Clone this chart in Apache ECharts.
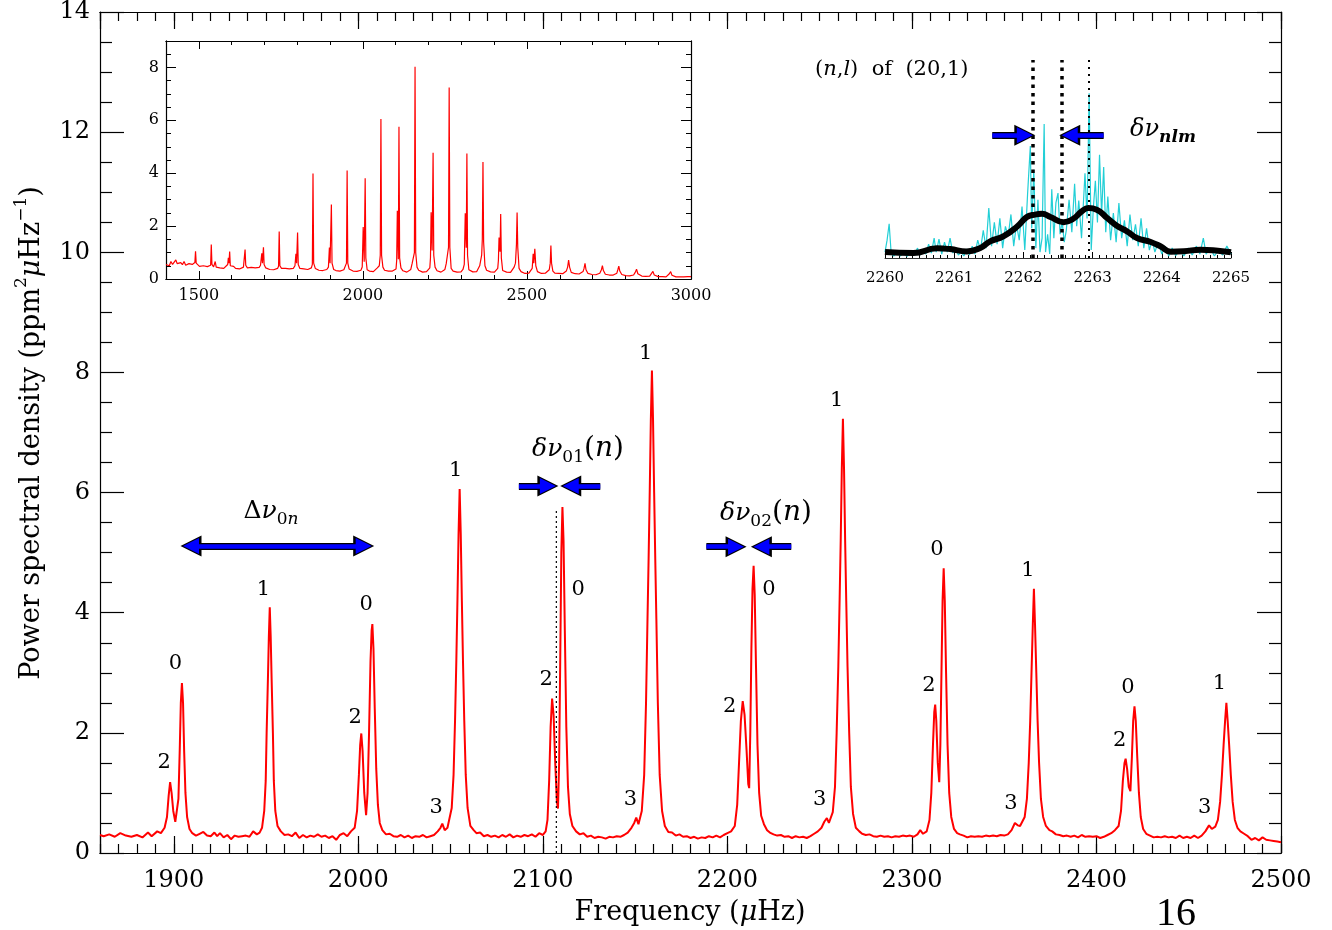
<!DOCTYPE html>
<html>
<head>
<meta charset="utf-8">
<title>Power spectrum</title>
<script src="https://cdn.jsdelivr.net/npm/echarts@6/dist/echarts.min.js"></script>
<style>
  html, body { margin: 0; padding: 0; background: #fff; }
  #chart { width: 1332px; height: 930px; }
</style>
</head>
<body>
<div id="chart"></div>
<script>
// main spectrum, [frequency (uHz), PSD]
const mainSpectrum = [
  [1860,0.30],[1862,0.28],[1865,0.31],[1868,0.27],[1871,0.33],[1874,0.29],[1877,0.27],[1880,0.30],[1883,0.26],[1886,0.34],
  [1888,0.28],[1891,0.36],[1893,0.33],[1895,0.42],[1896.3,0.6],[1897.2,0.95],[1898.0,1.18],[1898.8,1.0],[1899.7,0.7],[1900.8,0.52],
  [1901.7,0.55],[1902.5,0.9],[1903.2,1.7],[1903.8,2.5],[1904.4,2.83],[1905.0,2.5],[1905.6,1.7],[1906.3,1.0],[1907.2,0.6],[1908.5,0.40],
  [1910,0.33],[1912,0.29],[1914,0.32],[1916,0.35],[1918,0.29],[1920,0.28],[1922,0.34],[1923.5,0.28],[1925,0.33],[1927,0.26],
  [1929,0.30],[1931,0.23],[1933,0.29],[1935,0.27],[1937,0.28],[1939,0.29],[1941,0.27],[1943,0.36],[1945,0.31],[1946.5,0.34],
  [1947.8,0.42],[1949.0,0.7],[1949.8,1.2],[1950.3,2.0],[1951.0,2.9],[1951.5,3.6],[1952.0,4.09],[1952.5,3.6],[1953.0,2.9],[1953.7,2.0],
  [1954.2,1.2],[1955.0,0.7],[1956.2,0.45],[1958,0.36],[1960,0.30],[1962,0.31],[1964,0.28],[1966,0.34],[1968,0.25],[1970,0.30],
  [1972,0.26],[1974,0.29],[1976,0.27],[1978,0.31],[1980,0.27],[1982,0.29],[1984,0.25],[1986,0.28],[1988,0.22],[1990,0.30],
  [1992,0.33],[1994,0.28],[1996,0.36],[1998,0.42],[1999.3,0.7],[2000.3,1.3],[2001.0,1.8],[2001.6,1.99],[2002.3,1.7],[2003.2,1.0],
  [2004.2,0.63],[2005.0,1.0],[2005.8,2.0],[2006.6,3.2],[2007.2,3.7],[2007.6,3.81],[2008.2,3.4],[2008.9,2.4],[2009.7,1.4],[2010.6,0.8],
  [2011.6,0.5],[2013,0.38],[2015,0.31],[2017,0.32],[2019,0.28],[2021,0.27],[2023,0.30],[2025,0.26],[2027,0.29],[2029,0.25],
  [2031,0.28],[2033,0.27],[2035,0.30],[2037,0.26],[2039,0.28],[2041,0.30],[2043,0.36],[2044.5,0.42],[2045.5,0.49],[2046.8,0.38],
  [2048.3,0.42],[2049.1,0.45],[2050.6,0.75],[2051.6,1.3],[2052.4,2.2],[2053.1,3.2],[2053.7,4.2],[2054.3,5.3],[2054.9,6.06],[2055.5,5.3],
  [2056.1,4.2],[2056.7,3.2],[2057.4,2.2],[2058.2,1.3],[2059.2,0.75],[2060.7,0.45],[2062.5,0.38],[2064,0.33],[2066,0.34],[2068,0.28],
  [2070,0.30],[2072,0.27],[2074,0.29],[2076,0.26],[2078,0.30],[2080,0.27],[2082,0.31],[2084,0.26],[2086,0.29],[2088,0.27],
  [2090,0.30],[2092,0.28],[2094,0.31],[2096,0.27],[2098,0.33],[2100,0.30],[2101.5,0.36],[2102.5,0.55],[2103.4,1.2],[2104.2,2.1],
  [2105.0,2.57],[2105.8,2.3],[2106.7,1.5],[2107.6,0.85],[2108.2,0.74],[2108.8,1.5],[2109.4,3.2],[2110.0,5.0],[2110.6,5.76],[2111.2,5.2],
  [2111.9,3.7],[2112.7,2.1],[2113.6,1.1],[2114.6,0.65],[2116,0.45],[2118,0.36],[2120,0.31],[2122,0.33],[2124,0.27],[2126,0.29],
  [2128,0.25],[2130,0.27],[2132,0.26],[2134,0.24],[2136,0.27],[2138,0.26],[2140,0.28],[2142,0.27],[2144,0.30],[2146,0.34],
  [2148,0.42],[2149.5,0.50],[2150.6,0.59],[2151.8,0.48],[2152.1,0.47],[2153.6,0.7],[2154.9,1.3],[2155.9,2.5],[2156.7,3.9],[2157.3,4.9],
  [2157.9,6.0],[2158.5,7.2],[2159.1,8.03],[2159.7,7.2],[2160.3,6.0],[2160.9,4.9],[2161.5,3.9],[2162.3,2.5],[2163.3,1.3],[2164.6,0.7],
  [2166.1,0.45],[2168,0.35],[2170,0.34],[2172,0.29],[2174,0.31],[2176,0.27],[2178,0.28],[2180,0.25],[2182,0.27],[2184,0.24],
  [2186,0.26],[2188,0.25],[2190,0.28],[2192,0.26],[2194,0.29],[2196,0.26],[2198,0.30],[2200,0.33],[2202,0.36],[2204,0.45],
  [2205.3,0.8],[2206.3,1.5],[2207.3,2.2],[2208.3,2.53],[2209.3,2.3],[2210.4,1.7],[2211.3,1.15],[2211.8,1.08],[2212.4,2.0],[2213.0,3.4],
  [2213.6,4.4],[2214.2,4.78],[2214.8,4.3],[2215.5,3.1],[2216.3,1.8],[2217.2,1.0],[2218.3,0.62],[2219.8,0.48],[2221.5,0.38],[2223,0.34],
  [2225,0.31],[2227,0.29],[2229,0.30],[2231,0.27],[2233,0.28],[2235,0.25],[2237,0.28],[2239,0.26],[2241,0.27],[2243,0.25],
  [2245,0.28],[2247,0.32],[2249,0.36],[2251,0.42],[2252.5,0.52],[2253.9,0.58],[2255,0.50],[2255.6,0.52],[2257.1,0.68],[2258.3,1.1],
  [2259.2,2.0],[2260.1,3.1],[2260.8,4.2],[2261.4,5.2],[2262.0,6.4],[2262.6,7.23],[2263.2,6.4],[2263.8,5.2],[2264.4,4.2],[2265.1,3.1],
  [2266.0,2.0],[2266.9,1.1],[2268.1,0.65],[2269.6,0.42],[2271.5,0.36],[2273,0.32],[2275,0.30],[2277,0.31],[2279,0.28],[2281,0.27],
  [2283,0.29],[2285,0.27],[2287,0.28],[2289,0.26],[2291,0.28],[2293,0.27],[2295,0.29],[2297,0.28],[2299,0.29],[2301,0.27],
  [2303,0.31],[2304.5,0.38],[2306,0.32],[2308,0.36],[2309.5,0.55],[2310.5,1.0],[2311.4,1.8],[2312.1,2.35],[2312.6,2.47],[2313.2,2.2],
  [2314.0,1.5],[2314.8,1.18],[2315.4,1.8],[2316.0,3.0],[2316.6,4.2],[2317.2,4.74],[2317.8,4.2],[2318.5,3.0],[2319.3,1.8],[2320.2,1.0],
  [2321.3,0.6],[2322.8,0.40],[2324.5,0.33],[2326,0.31],[2328,0.29],[2330,0.26],[2332,0.28],[2334,0.27],[2336,0.28],[2338,0.27],
  [2340,0.29],[2342,0.28],[2344,0.29],[2346,0.28],[2348,0.30],[2350,0.29],[2352,0.31],[2354,0.38],[2355.8,0.50],[2357.3,0.46],
  [2358.6,0.45],[2359.6,0.46],[2361.1,0.6],[2362.3,0.9],[2363.3,1.5],[2364.1,2.2],[2364.8,3.0],[2365.5,3.8],[2366.1,4.40],[2366.7,3.8],
  [2367.4,3.0],[2368.1,2.2],[2368.9,1.5],[2369.9,0.9],[2371.1,0.6],[2372.6,0.45],[2374.5,0.38],[2376,0.36],[2378,0.31],[2380,0.30],
  [2382,0.28],[2384,0.29],[2386,0.27],[2388,0.29],[2390,0.26],[2392,0.30],[2394,0.27],[2396,0.28],[2398,0.27],[2400,0.28],
  [2402,0.25],[2404,0.27],[2406,0.30],[2408,0.33],[2410,0.38],[2412,0.45],[2413.3,0.7],[2414.3,1.2],[2415.2,1.5],[2415.8,1.57],
  [2416.6,1.4],[2417.5,1.1],[2418.4,1.03],[2419.2,1.6],[2419.9,2.2],[2420.6,2.44],[2421.3,2.2],[2422.1,1.6],[2423.0,1.0],[2424.0,0.6],
  [2425.3,0.40],[2427,0.32],[2429,0.29],[2431,0.26],[2433,0.27],[2435,0.26],[2437,0.28],[2439,0.26],[2441,0.27],[2443,0.25],
  [2445,0.29],[2447,0.25],[2449,0.27],[2451,0.25],[2453,0.29],[2455,0.25],[2457,0.29],[2459,0.36],[2461,0.46],[2462.5,0.40],
  [2464.4,0.44],[2465.8,0.55],[2467.0,0.85],[2468.0,1.3],[2468.9,1.8],[2469.7,2.2],[2470.4,2.50],[2471.1,2.2],[2471.9,1.8],[2472.8,1.3],
  [2473.8,0.85],[2475.0,0.55],[2476.4,0.42],[2478,0.36],[2480,0.32],[2482,0.28],[2484,0.22],[2486,0.25],[2488,0.21],[2490,0.26],
  [2492,0.22],[2494,0.21],[2496,0.20],[2498,0.19],[2500,0.18]
];

// angular degree labels above the peaks: [frequency, PSD, l]
const modeLabels = [
  [1894.8,1.51,'2'],[1900.9,3.15,'0'],[1948.6,4.39,'1'],[1998.3,2.26,'2'],[2004.3,4.13,'0'],[2042.2,0.76,'3'],
  [2052.7,6.37,'1'],[2101.8,2.88,'2'],[2119.2,4.38,'0'],[2147.4,0.89,'3'],[2155.7,8.32,'1'],[2201.2,2.43,'2'],
  [2222.5,4.39,'0'],[2250.0,0.89,'3'],[2259.2,7.54,'1'],[2309.2,2.79,'2'],[2313.5,5.05,'0'],[2353.7,0.82,'3'],
  [2362.9,4.71,'1'],[2412.6,1.88,'2'],[2417.1,2.76,'0'],[2458.6,0.76,'3'],[2466.7,2.82,'1']
];

// arrows: [tail, head, PSD]
const spacingArrow = [[1909.3, 2002.9, 5.11]];
const pointerArrows = [[2087.0, 2102.7, 6.11], [2131.1, 2115.1, 6.11], [2188.6, 2204.7, 5.10], [2234.6, 2218.4, 5.10]];
const refLine01 = [2107.3, 5.71];

// full spectrum inset
const insetSpectrum = [
  [1400,0.55],[1405,0.62],[1410,0.50],[1415,0.66],[1420,0.55],[1425,0.60],[1430,0.72],[1434,0.58],[1440,0.52],[1445,0.62],
  [1450,0.54],[1455,0.66],[1460,0.52],[1465,0.50],[1470,0.58],[1475,0.52],[1480,0.55],[1485,0.60],[1488,0.62],[1490,1.05],
  [1492,0.60],[1497,0.55],[1502,0.48],[1508,0.45],[1514,0.50],[1520,0.44],[1526,0.47],[1532,0.50],[1536,0.52],[1538,1.30],
  [1540,0.55],[1545,0.46],[1550,0.66],[1553,0.45],[1558,0.50],[1564,0.42],[1570,0.46],[1576,0.40],[1582,0.44],[1588,0.55],
  [1590,0.80],[1592,0.60],[1594,1.04],[1596,0.50],[1600,0.45],[1606,0.48],[1612,0.40],[1618,0.44],[1624,0.38],[1630,0.42],
  [1636,0.45],[1639,0.50],[1641,1.11],[1643,0.52],[1648,0.42],[1654,0.40],[1660,0.44],[1666,0.38],[1672,0.42],[1678,0.40],
  [1684,0.44],[1688,0.52],[1692,0.97],[1694,0.60],[1697,1.20],[1699,0.55],[1704,0.42],[1710,0.40],[1716,0.36],[1722,0.40],
  [1728,0.35],[1734,0.38],[1740,0.40],[1743,0.48],[1745,1.80],[1747,0.50],[1752,0.40],[1758,0.37],[1764,0.40],[1770,0.35],
  [1776,0.38],[1782,0.34],[1788,0.40],[1793,0.50],[1796,0.95],[1798,0.60],[1801,1.76],[1803,0.55],[1808,0.40],[1814,0.35],
  [1820,0.38],[1826,0.33],[1832,0.36],[1838,0.34],[1843,0.42],[1846,0.55],[1848,3.99],[1850,0.60],[1855,0.40],[1860,0.35],
  [1866,0.33],[1872,0.36],[1878,0.32],[1884,0.34],[1890,0.36],[1895,0.45],[1898,1.19],[1900,0.60],[1904,2.82],[1906,0.60],
  [1911,0.36],[1918,0.32],[1924,0.34],[1930,0.30],[1936,0.32],[1942,0.35],[1948,0.40],[1950,0.60],[1952,4.10],[1954,0.60],
  [1958,0.38],[1964,0.33],[1970,0.30],[1976,0.32],[1982,0.29],[1988,0.26],[1994,0.33],[1998,0.45],[2001,1.97],[2004,0.65],
  [2007,3.81],[2009,0.80],[2013,0.35],[2020,0.30],[2026,0.32],[2032,0.28],[2038,0.30],[2044,0.42],[2050,0.50],[2053,0.90],
  [2055,6.05],[2057,0.90],[2061,0.45],[2066,0.33],[2072,0.29],[2078,0.30],[2084,0.27],[2090,0.30],[2096,0.28],[2101,0.38],
  [2103,0.70],[2105,2.58],[2108,0.75],[2110,5.76],[2112,0.80],[2116,0.42],[2122,0.31],[2128,0.27],[2134,0.26],[2140,0.28],
  [2146,0.36],[2150,0.58],[2154,0.55],[2157,1.00],[2159,8.03],[2161,1.00],[2165,0.45],[2170,0.33],[2176,0.28],[2182,0.26],
  [2188,0.25],[2194,0.28],[2200,0.32],[2204,0.42],[2206,0.80],[2208,2.52],[2211,1.08],[2214,4.77],[2216,0.90],[2220,0.45],
  [2226,0.31],[2232,0.28],[2238,0.26],[2244,0.26],[2250,0.36],[2254,0.58],[2258,0.60],[2261,1.20],[2263,7.24],[2265,1.20],
  [2269,0.40],[2275,0.30],[2281,0.27],[2287,0.26],[2293,0.27],[2299,0.27],[2305,0.36],[2309,0.55],[2312,2.49],[2315,1.18],
  [2317,4.75],[2319,0.90],[2323,0.35],[2329,0.28],[2335,0.27],[2341,0.28],[2347,0.28],[2353,0.35],[2356,0.50],[2362,0.90],
  [2364,1.50],[2366,4.42],[2368,1.40],[2372,0.50],[2377,0.33],[2383,0.28],[2389,0.27],[2395,0.27],[2401,0.26],[2407,0.30],
  [2411,0.40],[2413,0.70],[2415,1.57],[2418,1.03],[2420,2.46],[2422,0.80],[2426,0.32],[2432,0.26],[2438,0.26],[2444,0.27],
  [2450,0.25],[2456,0.27],[2461,0.45],[2465,0.60],[2468,1.30],[2470,2.51],[2472,1.20],[2476,0.40],[2482,0.28],[2488,0.22],
  [2494,0.21],[2500,0.20],[2506,0.22],[2512,0.25],[2516,0.40],[2519,0.95],[2521,0.60],[2524,1.14],[2527,0.50],[2532,0.28],
  [2538,0.22],[2544,0.21],[2550,0.20],[2556,0.22],[2562,0.25],[2568,0.35],[2571,0.60],[2573,1.27],[2575,0.60],[2579,0.30],
  [2585,0.22],[2591,0.20],[2597,0.21],[2603,0.19],[2609,0.20],[2615,0.22],[2620,0.30],[2624,0.45],[2627,0.72],[2630,0.45],
  [2635,0.25],[2641,0.19],[2647,0.20],[2653,0.18],[2659,0.19],[2665,0.21],[2671,0.28],[2674,0.40],[2677,0.59],[2680,0.35],
  [2686,0.21],[2692,0.18],[2698,0.17],[2704,0.19],[2710,0.16],[2716,0.18],[2722,0.22],[2727,0.35],[2730,0.51],[2733,0.32],
  [2739,0.18],[2745,0.16],[2751,0.15],[2757,0.17],[2763,0.15],[2769,0.17],[2774,0.22],[2777,0.35],[2780,0.49],[2783,0.30],
  [2789,0.17],[2795,0.15],[2801,0.13],[2807,0.15],[2813,0.12],[2819,0.14],[2825,0.15],[2830,0.25],[2834,0.37],[2838,0.20],
  [2844,0.13],[2850,0.11],[2856,0.12],[2862,0.10],[2868,0.12],[2874,0.11],[2880,0.18],[2884,0.29],[2888,0.15],[2894,0.10],
  [2900,0.09],[2906,0.11],[2912,0.09],[2918,0.10],[2924,0.08],[2930,0.12],[2934,0.20],[2938,0.28],[2942,0.14],[2948,0.09],
  [2954,0.08],[2960,0.10],[2966,0.08],[2972,0.09],[2978,0.08],[2984,0.10],[2990,0.09],[2996,0.08],[3000,0.09]
];

// (20,1) multiplet zoom: raw and smoothed power
const zoomRaw = [
  [2260.00,0.3],[2260.03,0.9],[2260.06,1.73],[2260.09,0.2],[2260.13,0.1],[2260.18,0.35],[2260.22,0.1],[2260.27,0.25],
  [2260.32,0.08],[2260.37,0.3],[2260.42,0.12],[2260.47,0.5],[2260.51,0.15],[2260.55,0.4],[2260.59,0.2],[2260.63,0.7],
  [2260.67,0.25],[2260.71,1.0],[2260.74,0.3],[2260.78,0.95],[2260.82,0.2],[2260.86,0.8],[2260.90,0.3],[2260.94,1.0],
  [2260.98,0.25],[2261.02,0.5],[2261.06,0.15],[2261.10,0.3],[2261.14,0.1],[2261.18,0.45],[2261.22,0.15],[2261.26,0.6],
  [2261.30,0.2],[2261.34,0.9],[2261.38,0.4],[2261.42,1.4],[2261.46,0.5],[2261.50,2.52],[2261.54,0.6],[2261.58,1.8],
  [2261.62,0.7],[2261.66,2.0],[2261.70,0.5],[2261.74,1.6],[2261.78,1.1],[2261.82,2.2],[2261.86,0.6],[2261.90,1.7],
  [2261.94,0.9],[2261.98,2.6],[2262.02,0.4],[2262.06,3.2],[2262.10,5.66],[2262.12,1.5],[2262.15,4.45],[2262.18,0.5],
  [2262.21,2.94],[2262.24,0.3],[2262.27,1.0],[2262.30,6.77],[2262.32,0.3],[2262.35,1.2],[2262.38,0.2],[2262.41,3.47],
  [2262.44,1.0],[2262.47,2.8],[2262.50,3.28],[2262.53,1.2],[2262.56,1.85],[2262.59,0.8],[2262.62,1.4],[2262.66,2.94],
  [2262.70,1.3],[2262.74,3.75],[2262.77,1.6],[2262.80,2.9],[2262.84,1.0],[2262.89,4.28],[2262.92,2.0],[2262.95,8.32],
  [2262.98,0.4],[2263.01,2.5],[2263.04,3.9],[2263.07,1.8],[2263.10,5.21],[2263.13,2.2],[2263.16,4.6],[2263.19,1.3],
  [2263.22,3.1],[2263.26,0.9],[2263.30,2.27],[2263.34,0.8],[2263.38,2.77],[2263.42,1.0],[2263.46,1.9],[2263.50,0.6],
  [2263.54,2.2],[2263.58,0.9],[2263.62,1.7],[2263.66,0.6],[2263.70,2.0],[2263.74,0.5],[2263.78,1.5],[2263.82,0.4],
  [2263.86,0.9],[2263.90,0.3],[2263.95,0.8],[2264.00,0.2],[2264.05,0.6],[2264.10,0.1],[2264.15,0.5],[2264.20,0.12],
  [2264.26,0.4],[2264.32,0.1],[2264.38,0.5],[2264.44,0.15],[2264.50,0.6],[2264.55,0.2],[2264.60,1.0],[2264.64,0.2],
  [2264.70,0.5],[2264.76,0.1],[2264.82,0.4],[2264.88,0.15],[2264.94,0.6],[2265.00,0.2]
];
const zoomSmooth = [
  [2260.00,0.30],[2260.41,0.25],[2260.75,0.49],[2260.94,0.45],[2261.18,0.33],[2261.37,0.49],[2261.52,0.84],[2261.71,1.09],
  [2261.91,1.59],[2262.05,2.07],[2262.15,2.18],[2262.27,2.23],[2262.39,2.07],[2262.58,1.81],[2262.72,1.98],[2262.84,2.35],
  [2262.94,2.52],[2263.06,2.44],[2263.21,2.02],[2263.35,1.63],[2263.50,1.34],[2263.64,1.01],[2263.84,0.81],[2263.98,0.59],
  [2264.13,0.32],[2264.32,0.34],[2264.56,0.42],[2264.81,0.37],[2265.00,0.29]
];
const zoomMarkers = [2262.14, 2262.55, 2262.94];
const splitArrows = [[2261.55, 2262.02, 6.2], [2263.16, 2262.67, 6.2]];

const serif = 'DejaVu Serif';
const ink = '#000';

function axis(o) {
  const base = {
    type: 'value',
    axisLine: { show: true, onZero: false, lineStyle: { color: ink, width: 1.2 } },
    splitLine: { show: false },
    axisLabel: { show: false },
    axisTick: { show: false },
    minorTick: { show: false },
    minorSplitLine: { show: false }
  };
  return Object.assign(base, o);
}
function ticks(len, w) {
  return { show: true, inside: true, length: len, lineStyle: { color: ink, width: w || 1.2 } };
}
function minor(split, len, w) {
  return { show: true, splitNumber: split, length: len, lineStyle: { color: ink, width: w || 1.2 } };
}
function arrowSeries(segs, both, xi, yi, color, width, size, z) {
  return {
    type: 'lines', coordinateSystem: 'cartesian2d', xAxisIndex: xi, yAxisIndex: yi, z: z,
    symbol: both ? ['triangle', 'triangle'] : ['none', 'triangle'], symbolSize: size,
    lineStyle: { color: color, width: width, opacity: 1, curveness: 0 },
    data: segs.map(s => ({ coords: [[s[0], s[2]], [s[1], s[2]]] })),
    silent: true
  };
}

const chart = echarts.init(document.getElementById('chart'));

const mainTickLabel = { show: true, margin: 16, fontFamily: serif, fontSize: 24, color: ink,
  formatter: v => (v % 100 === 0 ? String(v) : '') };
const insetTickLabel = { show: true, margin: 9, fontFamily: serif, fontSize: 16, color: ink,
  formatter: v => (v % 500 === 0 ? String(v) : '') };

const option = {
  animation: false,
  backgroundColor: '#fff',
  grid: [
    { left: 100, top: 12, width: 1181, height: 841, outerBoundsMode: 'none' },
    { left: 166, top: 41, width: 525, height: 238, show: true, backgroundColor: '#fff', borderWidth: 0, outerBoundsMode: 'none' },
    { left: 885, top: 60, width: 346, height: 198, outerBoundsMode: 'none' }
  ],
  xAxis: [
    axis({ gridIndex: 0, position: 'bottom', min: 1860, max: 2500, minInterval: 100, maxInterval: 100,
      axisTick: ticks(17), axisLabel: mainTickLabel }),
    axis({ gridIndex: 0, position: 'bottom', min: 1860, max: 2500, interval: 10, axisTick: ticks(9) }),
    axis({ gridIndex: 0, position: 'top', min: 1860, max: 2500, minInterval: 100, maxInterval: 100, axisTick: ticks(17) }),
    axis({ gridIndex: 0, position: 'top', min: 1860, max: 2500, interval: 10, axisTick: ticks(9) }),
    axis({ gridIndex: 1, position: 'bottom', min: 1400, max: 3000, minInterval: 500, maxInterval: 500,
      axisTick: ticks(8, 1), axisLabel: insetTickLabel, axisLine: { show: true, onZero: false, lineStyle: { color: ink, width: 1 } } }),
    axis({ gridIndex: 1, position: 'bottom', min: 1400, max: 3000, interval: 100, axisTick: ticks(4, 1) }),
    axis({ gridIndex: 1, position: 'top', min: 1400, max: 3000, minInterval: 500, maxInterval: 500, axisTick: ticks(8, 1),
      axisLine: { show: true, onZero: false, lineStyle: { color: ink, width: 1 } } }),
    axis({ gridIndex: 1, position: 'top', min: 1400, max: 3000, interval: 100, axisTick: ticks(4, 1) }),
    axis({ gridIndex: 2, position: 'bottom', min: 2260, max: 2265, interval: 1,
      axisLine: { show: true, onZero: false, lineStyle: { color: '#333', width: 1 } },
      axisTick: ticks(6, 1), minorTick: minor(10, 3, 1),
      axisLabel: { show: true, margin: 13, fontFamily: serif, fontSize: 15, color: ink, formatter: v => String(v) } })
  ],
  yAxis: [
    axis({ gridIndex: 0, position: 'left', min: 0, max: 14, interval: 2, axisTick: ticks(24), minorTick: minor(4, 12),
      axisLabel: { show: true, margin: 10, fontFamily: serif, fontSize: 24, color: ink } }),
    axis({ gridIndex: 0, position: 'right', min: 0, max: 14, interval: 2, axisTick: ticks(24), minorTick: minor(4, 12) }),
    axis({ gridIndex: 1, position: 'left', min: 0, max: 9, interval: 2, axisTick: ticks(10, 1),
      axisLine: { show: true, onZero: false, lineStyle: { color: ink, width: 1 } },
      axisLabel: { show: true, margin: 7, fontFamily: serif, fontSize: 16, color: ink,
        formatter: v => (v % 2 === 0 ? String(v) : '') } }),
    axis({ gridIndex: 1, position: 'left', min: 0, max: 9, interval: 0.5, axisTick: ticks(5, 1) }),
    axis({ gridIndex: 1, position: 'right', min: 0, max: 9, interval: 2, axisTick: ticks(10, 1),
      axisLine: { show: true, onZero: false, lineStyle: { color: ink, width: 1 } } }),
    axis({ gridIndex: 1, position: 'right', min: 0, max: 9, interval: 0.5, axisTick: ticks(5, 1) }),
    axis({ gridIndex: 2, min: 0, max: 10, show: false })
  ],
  series: [
    {
      type: 'line', xAxisIndex: 0, yAxisIndex: 0, data: mainSpectrum, symbol: 'none', z: 2,
      lineStyle: { color: '#ff0000', width: 2 }
    },
    {
      type: 'line', xAxisIndex: 0, yAxisIndex: 0, symbol: 'none', z: 2,
      data: [[refLine01[0], 0], [refLine01[0], refLine01[1]]],
      lineStyle: { color: ink, width: 1.2, type: [2, 3] }
    },
    {
      type: 'scatter', xAxisIndex: 0, yAxisIndex: 0, data: modeLabels, symbolSize: 1, z: 3,
      itemStyle: { color: 'transparent' },
      label: { show: true, position: 'inside', formatter: p => p.value[2],
        fontFamily: serif, fontSize: 21, color: ink, textBorderWidth: 0, opacity: 1 }
    },
    arrowSeries(spacingArrow, true, 0, 0, ink, 7, 21, 4),
    arrowSeries(spacingArrow, true, 0, 0, '#0000ff', 4.5, 16, 5),
    arrowSeries(pointerArrows, false, 0, 0, ink, 7, 21, 4),
    arrowSeries(pointerArrows, false, 0, 0, '#0000ff', 4.5, 16, 5),
    {
      type: 'line', xAxisIndex: 4, yAxisIndex: 2, data: insetSpectrum, symbol: 'none', z: 6,
      lineStyle: { color: '#ff0000', width: 1.2 }
    },
    {
      type: 'line', xAxisIndex: 8, yAxisIndex: 6, data: zoomRaw, symbol: 'none', z: 2,
      lineStyle: { color: '#22cfd6', width: 1.2 }
    },
    {
      type: 'lines', coordinateSystem: 'cartesian2d', xAxisIndex: 8, yAxisIndex: 6, z: 3, silent: true,
      lineStyle: { color: ink, opacity: 1, width: 3.5, type: [3.5, 5] },
      data: zoomMarkers.map((m, i) => ({
        coords: [[m, 0], [m, 10]],
        lineStyle: i === 2 ? { width: 2, type: [2, 5] } : {}
      }))
    },
    {
      type: 'line', xAxisIndex: 8, yAxisIndex: 6, data: zoomSmooth, symbol: 'none', smooth: 0.5, z: 4,
      lineStyle: { color: ink, width: 6 }
    },
    arrowSeries(splitArrows, false, 8, 6, ink, 7, 21, 5),
    arrowSeries(splitArrows, false, 8, 6, '#0000ff', 4.5, 16, 6)
  ],
  graphic: [
    {
      type: 'text', x: 32, y: 433, rotation: Math.PI / 2,
      style: {
        text: '{t|Power spectral density (ppm}{sup|2}{mu|μ}{t|Hz}{sup|−1}{t|)}',
        align: 'center', verticalAlign: 'middle',
        rich: {
          t: { fontFamily: serif, fontSize: 27, lineHeight: 38, color: ink },
          mu: { fontFamily: serif, fontStyle: 'italic', fontSize: 27, lineHeight: 38, color: ink },
          sup: { fontFamily: serif, fontSize: 17, lineHeight: 17, verticalAlign: 'top', color: ink }
        }
      }
    },
    {
      type: 'text', x: 690, y: 913,
      style: {
        text: '{t|Frequency (}{mu|μ}{t|Hz)}',
        align: 'center', verticalAlign: 'middle',
        rich: {
          t: { fontFamily: serif, fontSize: 27, lineHeight: 32, color: ink },
          mu: { fontFamily: serif, fontStyle: 'italic', fontSize: 27, lineHeight: 32, color: ink }
        }
      }
    },
    {
      type: 'text', x: 1176, y: 914,
      style: { text: '16', fontFamily: 'Liberation Serif', fontSize: 40, fill: ink, align: 'center', verticalAlign: 'middle' }
    },
    {
      type: 'text', x: 271, y: 511,
      style: {
        text: '{g|Δ}{gi|ν}{s|0}{si|n}',
        align: 'center', verticalAlign: 'middle',
        rich: {
          g: { fontFamily: serif, fontSize: 25, lineHeight: 34, color: ink },
          gi: { fontFamily: serif, fontStyle: 'italic', fontSize: 25, lineHeight: 34, color: ink },
          s: { fontFamily: serif, fontSize: 17, lineHeight: 17, verticalAlign: 'bottom', color: ink },
          si: { fontFamily: serif, fontStyle: 'italic', fontSize: 17, lineHeight: 17, verticalAlign: 'bottom', color: ink }
        }
      }
    },
    {
      type: 'text', x: 578, y: 449,
      style: {
        text: '{gi|δν}{s|01}{p|(}{pi|n}{p|)}',
        align: 'center', verticalAlign: 'middle',
        rich: {
          gi: { fontFamily: serif, fontStyle: 'italic', fontSize: 25, lineHeight: 34, color: ink },
          s: { fontFamily: serif, fontSize: 17, lineHeight: 17, verticalAlign: 'bottom', color: ink },
          p: { fontFamily: serif, fontSize: 28, lineHeight: 34, color: ink },
          pi: { fontFamily: serif, fontStyle: 'italic', fontSize: 28, lineHeight: 34, color: ink }
        }
      }
    },
    {
      type: 'text', x: 766, y: 513,
      style: {
        text: '{gi|δν}{s|02}{p|(}{pi|n}{p|)}',
        align: 'center', verticalAlign: 'middle',
        rich: {
          gi: { fontFamily: serif, fontStyle: 'italic', fontSize: 25, lineHeight: 34, color: ink },
          s: { fontFamily: serif, fontSize: 17, lineHeight: 17, verticalAlign: 'bottom', color: ink },
          p: { fontFamily: serif, fontSize: 28, lineHeight: 34, color: ink },
          pi: { fontFamily: serif, fontStyle: 'italic', fontSize: 28, lineHeight: 34, color: ink }
        }
      }
    },
    {
      type: 'text', x: 815, y: 70,
      style: {
        text: '{p|(}{i|n}{p|,}{i|l}{p|)  of  (20,1)}',
        align: 'left', verticalAlign: 'middle',
        rich: {
          p: { fontFamily: serif, fontSize: 21, lineHeight: 26, color: ink },
          i: { fontFamily: serif, fontStyle: 'italic', fontSize: 21, lineHeight: 26, color: ink }
        }
      }
    },
    {
      type: 'text', x: 1163, y: 130,
      style: {
        text: '{gi|δν}{s|nlm}',
        align: 'center', verticalAlign: 'middle',
        rich: {
          gi: { fontFamily: serif, fontStyle: 'italic', fontSize: 24, lineHeight: 32, color: ink },
          s: { fontFamily: serif, fontStyle: 'italic', fontWeight: 'bold', fontSize: 17, lineHeight: 17, verticalAlign: 'bottom', color: ink }
        }
      }
    }
  ]
};

chart.setOption(option);
window.addEventListener('resize', function () { chart.resize(); });
</script>
</body>
</html>
